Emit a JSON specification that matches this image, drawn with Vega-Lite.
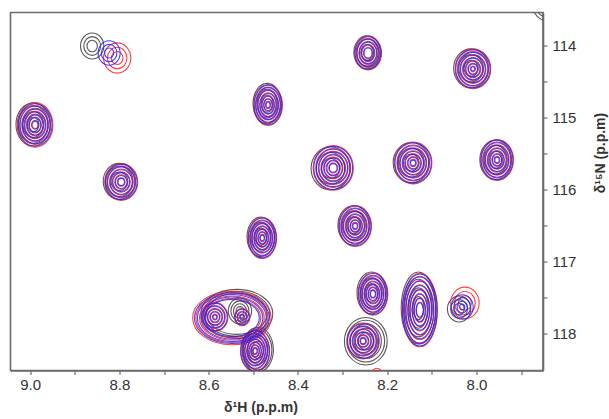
{
  "$schema": "https://vega.github.io/schema/vega-lite/v6.json",
  "width": 532.5,
  "height": 358,
  "autosize": "none",
  "padding": {"left": 10.5, "top": 12.5, "right": 66, "bottom": 48.5},
  "background": "white",
  "config": {
    "view": {"stroke": "#6b6b6b", "strokeWidth": 1.6},
    "font": "Liberation Sans"
  },
  "data": {
    "values": [
      {"s": "k", "f": "o", "h": 8.993, "n": 115.09, "v": [0.1, 0.18, 0.26, 0.3]},
      {"s": "k", "f": "r", "h": 8.861, "n": 114.0, "v": [0.08, 0.13, 0.18]},
      {"s": "k", "f": "r", "h": 8.8, "n": 115.88, "v": [0.13, 0.21, 0.25]},
      {"s": "k", "f": "t", "h": 8.469, "n": 114.8, "v": [0.12, 0.2, 0.28]},
      {"s": "k", "f": "o", "h": 8.245, "n": 114.09, "v": [0.11, 0.19, 0.23]},
      {"s": "k", "f": "r", "h": 8.012, "n": 114.31, "v": [0.11, 0.19, 0.27]},
      {"s": "k", "f": "r", "h": 8.327, "n": 115.7, "v": [0.14, 0.22, 0.3]},
      {"s": "k", "f": "r", "h": 8.146, "n": 115.62, "v": [0.12, 0.2, 0.28]},
      {"s": "k", "f": "o", "h": 7.957, "n": 115.58, "v": [0.12, 0.2, 0.275]},
      {"s": "k", "f": "t", "h": 8.483, "n": 116.65, "v": [0.12, 0.2, 0.275]},
      {"s": "k", "f": "o", "h": 8.275, "n": 116.49, "v": [0.12, 0.2, 0.275]},
      {"s": "k", "f": "w", "h": 8.537, "n": 117.72, "v": [0.42, 0.46, 0.5]},
      {"s": "k", "f": "r", "h": 8.53, "n": 117.68, "v": [0.06, 0.1, 0.14, 0.18]},
      {"s": "k", "f": "t", "h": 8.49, "n": 118.22, "v": [0.12, 0.2, 0.28, 0.31]},
      {"s": "k", "f": "t", "h": 8.235, "n": 117.43, "v": [0.13, 0.21, 0.29]},
      {"s": "k", "f": "r", "h": 8.248, "n": 118.1, "v": [0.12, 0.18, 0.24, 0.29, 0.33]},
      {"s": "k", "f": "e", "h": 8.13, "n": 117.64, "v": [0.16, 0.28, 0.4, 0.5]},
      {"s": "k", "f": "r", "h": 8.039, "n": 117.653, "v": [0.08, 0.13, 0.18]},
      {"s": "k", "f": "r", "h": 7.844, "n": 113.444, "v": [0.15, 0.2]},

      {"s": "r", "f": "o", "h": 8.989, "n": 115.097, "v": [0.05, 0.11, 0.15, 0.19, 0.23, 0.27, 0.31]},
      {"s": "r", "f": "r", "h": 8.805, "n": 114.167, "v": [0.09, 0.15, 0.21]},
      {"s": "r", "f": "r", "h": 8.796, "n": 115.889, "v": [0.06, 0.1, 0.14, 0.18, 0.22, 0.255]},
      {"s": "r", "f": "t", "h": 8.467, "n": 114.819, "v": [0.05, 0.09, 0.13, 0.17, 0.21, 0.25, 0.285]},
      {"s": "r", "f": "o", "h": 8.243, "n": 114.097, "v": [0.08, 0.12, 0.16, 0.2, 0.235]},
      {"s": "r", "f": "r", "h": 8.008, "n": 114.319, "v": [0.04, 0.08, 0.12, 0.16, 0.2, 0.24, 0.275]},
      {"s": "r", "f": "r", "h": 8.321, "n": 115.694, "v": [0.07, 0.11, 0.15, 0.19, 0.23, 0.27, 0.31]},
      {"s": "r", "f": "r", "h": 8.142, "n": 115.625, "v": [0.05, 0.09, 0.13, 0.17, 0.21, 0.25, 0.29]},
      {"s": "r", "f": "o", "h": 7.954, "n": 115.583, "v": [0.05, 0.09, 0.13, 0.17, 0.21, 0.25, 0.285]},
      {"s": "r", "f": "t", "h": 8.48, "n": 116.667, "v": [0.05, 0.09, 0.13, 0.17, 0.21, 0.25, 0.285]},
      {"s": "r", "f": "o", "h": 8.272, "n": 116.5, "v": [0.05, 0.09, 0.13, 0.17, 0.21, 0.25, 0.285]},
      {"s": "r", "f": "w", "h": 8.548, "n": 117.778, "v": [0.4, 0.45, 0.5, 0.545]},
      {"s": "r", "f": "r", "h": 8.586, "n": 117.764, "v": [0.04, 0.08, 0.12, 0.16, 0.2]},
      {"s": "r", "f": "r", "h": 8.525, "n": 117.764, "v": [0.04, 0.08, 0.12]},
      {"s": "r", "f": "t", "h": 8.496, "n": 118.236, "v": [0.05, 0.09, 0.13, 0.17, 0.21, 0.25, 0.29]},
      {"s": "r", "f": "t", "h": 8.232, "n": 117.444, "v": [0.06, 0.1, 0.14, 0.18, 0.22, 0.26, 0.295]},
      {"s": "r", "f": "r", "h": 8.254, "n": 118.097, "v": [0.05, 0.09, 0.13, 0.17, 0.21, 0.25]},
      {"s": "r", "f": "e", "h": 8.127, "n": 117.667, "v": [0.11, 0.17, 0.23, 0.29, 0.35, 0.41, 0.47, 0.51]},
      {"s": "r", "f": "r", "h": 8.026, "n": 117.569, "v": [0.1, 0.16, 0.22]},
      {"s": "r", "f": "r", "h": 8.223, "n": 118.556, "v": [0.04, 0.08]},
      {"s": "r", "f": "r", "h": 7.844, "n": 113.444, "v": [0.11]},

      {"s": "b", "f": "o", "h": 8.989, "n": 115.097, "v": [0.06, 0.1, 0.14, 0.18, 0.22, 0.26, 0.295]},
      {"s": "b", "f": "r", "h": 8.823, "n": 114.097, "v": [0.07, 0.12, 0.17]},
      {"s": "b", "f": "r", "h": 8.796, "n": 115.889, "v": [0.05, 0.09, 0.13, 0.17, 0.21, 0.245]},
      {"s": "b", "f": "t", "h": 8.467, "n": 114.819, "v": [0.04, 0.08, 0.12, 0.16, 0.2, 0.24, 0.275]},
      {"s": "b", "f": "o", "h": 8.243, "n": 114.097, "v": [0.07, 0.11, 0.15, 0.19, 0.225]},
      {"s": "b", "f": "r", "h": 8.008, "n": 114.319, "v": [0.03, 0.07, 0.11, 0.15, 0.19, 0.23, 0.265]},
      {"s": "b", "f": "r", "h": 8.321, "n": 115.694, "v": [0.06, 0.1, 0.14, 0.18, 0.22, 0.26, 0.3]},
      {"s": "b", "f": "r", "h": 8.142, "n": 115.625, "v": [0.04, 0.08, 0.12, 0.16, 0.2, 0.24, 0.28]},
      {"s": "b", "f": "o", "h": 7.954, "n": 115.583, "v": [0.04, 0.08, 0.12, 0.16, 0.2, 0.24, 0.275]},
      {"s": "b", "f": "t", "h": 8.48, "n": 116.667, "v": [0.04, 0.08, 0.12, 0.16, 0.2, 0.24, 0.275]},
      {"s": "b", "f": "o", "h": 8.272, "n": 116.5, "v": [0.04, 0.08, 0.12, 0.16, 0.2, 0.24, 0.275]},
      {"s": "b", "f": "w", "h": 8.548, "n": 117.778, "v": [0.38, 0.43, 0.48, 0.52]},
      {"s": "b", "f": "r", "h": 8.586, "n": 117.764, "v": [0.03, 0.07, 0.11, 0.15, 0.19]},
      {"s": "b", "f": "r", "h": 8.525, "n": 117.764, "v": [0.03, 0.07, 0.11]},
      {"s": "b", "f": "t", "h": 8.496, "n": 118.236, "v": [0.04, 0.08, 0.12, 0.16, 0.2, 0.24, 0.28]},
      {"s": "b", "f": "t", "h": 8.232, "n": 117.444, "v": [0.05, 0.09, 0.13, 0.17, 0.21, 0.25, 0.285]},
      {"s": "b", "f": "r", "h": 8.254, "n": 118.097, "v": [0.04, 0.08, 0.12, 0.16, 0.2, 0.24]},
      {"s": "b", "f": "e", "h": 8.127, "n": 117.667, "v": [0.1, 0.16, 0.22, 0.28, 0.34, 0.4, 0.46, 0.5]},
      {"s": "b", "f": "r", "h": 8.032, "n": 117.625, "v": [0.04, 0.08, 0.13, 0.17]},
      {"s": "b", "f": "r", "h": 8.223, "n": 118.556, "v": [0.04]}
    ]
  },
  "transform": [{"flatten": ["v"]}],
  "mark": {"type": "point", "filled": false, "clip": true, "strokeWidth": 1.1, "opacity": 0.85},
  "encoding": {
    "x": {
      "field": "h", "type": "quantitative",
      "scale": {"domain": [9.044, 7.851], "zero": false, "nice": false},
      "axis": {
        "values": [9.0, 8.9, 8.8, 8.7, 8.6, 8.5, 8.4, 8.3, 8.2, 8.1, 8.0, 7.9],
        "labelExpr": "abs(round(datum.value*10)%2)==0 ? format(datum.value,'.1f') : ''",
        "grid": false,
        "domainColor": "#6b6b6b", "domainWidth": 1.6,
        "tickColor": "#555", "tickSize": 4, "tickWidth": 1,
        "labelFont": "Liberation Sans", "labelFontSize": 15, "labelColor": "#333", "labelPadding": 3,
        "title": "δ¹H (p.p.m)",
        "titleFont": "Liberation Sans", "titleFontSize": 14, "titleFontWeight": "bold", "titleColor": "#333",
        "titleX": 250, "titleY": 37, "titleBaseline": "middle", "titleAlign": "center"
      }
    },
    "y": {
      "field": "n", "type": "quantitative",
      "scale": {"domain": [113.535, 118.507], "zero": false, "nice": false, "reverse": true},
      "axis": {
        "orient": "right",
        "values": [114, 114.5, 115, 115.5, 116, 116.5, 117, 117.5, 118],
        "labelExpr": "datum.value % 1 == 0 ? format(datum.value,'d') : ''",
        "grid": false,
        "domainColor": "#6b6b6b", "domainWidth": 1.6,
        "tickColor": "#555", "tickSize": 4, "tickWidth": 1,
        "labelFont": "Liberation Sans", "labelFontSize": 15, "labelColor": "#333", "labelPadding": 5,
        "title": "δ¹⁵N (p.p.m)",
        "titleFont": "Liberation Sans", "titleFontSize": 14, "titleFontWeight": "bold", "titleColor": "#333",
        "titleAngle": 270, "titleX": 57, "titleY": 140, "titleBaseline": "middle", "titleAlign": "center"
      }
    },
    "size": {
      "field": "v", "type": "quantitative", "legend": null,
      "scale": {"type": "pow", "exponent": 2, "domain": [0, 1], "range": [0, 20736], "zero": true}
    },
    "shape": {
      "field": "f", "type": "nominal", "legend": null,
      "scale": {
        "domain": ["r", "o", "t", "e", "w"],
        "range": [
          "M0,-1A0.9,1,0,1,1,0,1A0.9,1,0,1,1,0,-1Z",
          "M0,-1A0.8,1,0,1,1,0,1A0.8,1,0,1,1,0,-1Z",
          "M0,-1A0.7,1,0,1,1,0,1A0.7,1,0,1,1,0,-1Z",
          "M0,-1A0.48,1,0,1,1,0,1A0.48,1,0,1,1,0,-1Z",
          "M-1,0A1,0.68,0,1,1,1,0A1,0.68,0,1,1,-1,0Z"
        ]
      }
    },
    "color": {
      "field": "s", "type": "nominal", "legend": null,
      "scale": {"domain": ["k", "r", "b"], "range": ["#3c3c3c", "#ff2020", "#2424ff"]}
    }
  }
}
